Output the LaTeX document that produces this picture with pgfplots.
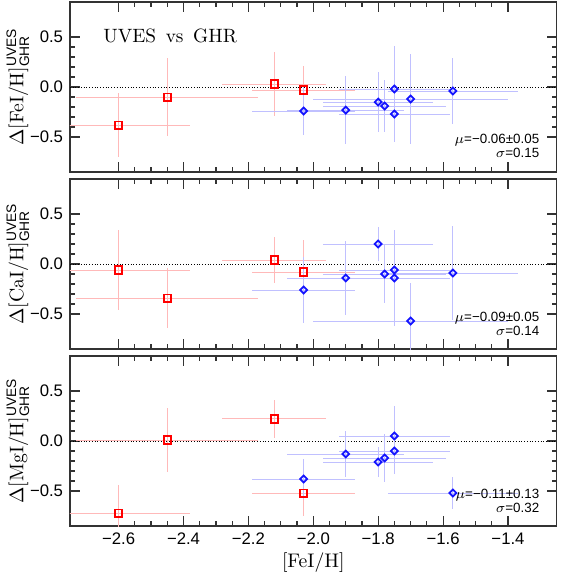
\documentclass[border=0pt]{standalone}
\usepackage{pgfplots}
\pgfplotsset{compat=1.18}
\usepgfplotslibrary{groupplots}
\usepackage{amsmath}
\usepackage{fontspec}
\newfontfamily\tickfont{Liberation Sans}
\definecolor{ebred}{RGB}{255,185,185}
\definecolor{ebblue}{RGB}{192,192,255}
\definecolor{mkblue}{RGB}{20,20,255}

\pgfplotsset{
  redpts/.style={only marks, mark=square, mark size=1.8pt, color=red,
    mark options={line width=1pt, solid},
    error bars/.cd, x dir=both, x explicit, y dir=both, y explicit,
    error mark=none, error bar style={color=ebred, line width=0.5pt}},
  bluepts/.style={only marks, mark=square, mark size=1.25pt, color=mkblue,
    mark options={line width=0.9pt, solid, rotate=45},
    error bars/.cd, x dir=both, x explicit, y dir=both, y explicit,
    error mark=none, error bar style={color=ebblue, line width=0.5pt}},
  zeroline/.style={black, line width=0.5pt, dash pattern=on 0.5pt off 0.9pt, forget plot},
}

\begin{document}
\begin{tikzpicture}
\begin{groupplot}[
  group style={group size=1 by 3, vertical sep=3.5pt, xticklabels at=edge bottom},
  scale only axis, width=247.5pt, height=86.5pt,
  xmin=-2.75, xmax=-1.25, ymin=-0.85, ymax=0.85,
  xtick={-2.6,-2.4,-2.2,-2.0,-1.8,-1.6,-1.4},
  xticklabels={−2.6,−2.4,−2.2,−2.0,−1.8,−1.6,−1.4},
  ytick={-0.5,0,0.5}, yticklabels={−0.5,0.0,0.5},
  minor x tick num=3, minor y tick num=4,
  major tick length=5pt, minor tick length=2.5pt,
  tick align=inside, tick pos=both,
  axis line style={line width=0.6pt, black!80},
  every tick/.style={line width=0.6pt, black!80},
  tick label style={font=\tickfont\fontsize{8.5}{10}\selectfont},
  label style={font=\fontsize{9.5}{11}\selectfont},
  every axis y label/.style={at={(axis description cs:-0.107,0.5)}, rotate=90, anchor=center},
  every axis x label/.style={at={(axis description cs:0.5,-0.215)}, anchor=center},
  clip=true,
]
\nextgroupplot[ylabel={$\Delta$[FeI/H]$^{\text{\tickfont UVES}}_{\text{\tickfont GHR}}$}]
\addplot[zeroline] coordinates {(-2.75,0) (-1.25,0)};
\addplot[redpts] table[x=x,y=y,x error=ex,y error=ey]{
x y ex ey
-2.60 -0.38 0.22 0.32
-2.45 -0.10 0.28 0.39
-2.12 0.03 0.16 0.32
-2.03 -0.03 0.16 0.24
};
\addplot[bluepts] table[x=x,y=y,x error=ex,y error=ey]{
x y ex ey
-2.03 -0.24 0.16 0.24
-1.90 -0.23 0.18 0.34
-1.80 -0.15 0.17 0.30
-1.78 -0.19 0.19 0.26
-1.75 -0.02 0.17 0.43
-1.75 -0.27 0.17 0.28
-1.70 -0.12 0.30 0.45
-1.57 -0.04 0.20 0.33
};
\node[anchor=west, inner sep=0pt, font=\fontsize{9.8}{12}\selectfont] at (rel axis cs:0.068,0.80) {UVES\, vs\, GHR};
\node[anchor=east, align=right, inner sep=0pt, font=\tickfont\fontsize{6.8}{7.2}\selectfont] at (rel axis cs:0.965,0.155) {$\mu$=−0.06±0.05\\$\sigma$=0.15};

\nextgroupplot[ylabel={$\Delta$[CaI/H]$^{\text{\tickfont UVES}}_{\text{\tickfont GHR}}$}]
\addplot[zeroline] coordinates {(-2.75,0) (-1.25,0)};
\addplot[redpts] table[x=x,y=y,x error=ex,y error=ey]{
x y ex ey
-2.60 -0.06 0.22 0.40
-2.45 -0.34 0.28 0.30
-2.12 0.04 0.16 0.23
-2.03 -0.08 0.16 0.32
};
\addplot[bluepts] table[x=x,y=y,x error=ex,y error=ey]{
x y ex ey
-2.03 -0.26 0.16 0.33
-1.90 -0.14 0.18 0.37
-1.80 0.20 0.17 0.17
-1.78 -0.10 0.19 0.29
-1.75 -0.06 0.17 0.30
-1.75 -0.14 0.17 0.48
-1.70 -0.57 0.30 0.38
-1.57 -0.09 0.20 0.47
};
\node[anchor=east, align=right, inner sep=0pt, font=\tickfont\fontsize{6.8}{7.2}\selectfont] at (rel axis cs:0.965,0.15) {$\mu$=−0.09±0.05\\$\sigma$=0.14};

\nextgroupplot[ylabel={$\Delta$[MgI/H]$^{\text{\tickfont UVES}}_{\text{\tickfont GHR}}$}, xlabel={[FeI/H]}]
\addplot[zeroline] coordinates {(-2.75,0) (-1.25,0)};
\addplot[redpts] table[x=x,y=y,x error=ex,y error=ey]{
x y ex ey
-2.60 -0.72 0.22 0.28
-2.45 0.01 0.28 0.32
-2.12 0.22 0.16 0.19
-2.03 -0.52 0.16 0.23
};
\addplot[bluepts] table[x=x,y=y,x error=ex,y error=ey]{
x y ex ey
-2.03 -0.38 0.16 0.20
-1.90 -0.13 0.18 0.23
-1.80 -0.21 0.17 0.15
-1.78 -0.17 0.19 0.24
-1.75 0.05 0.17 0.30
-1.75 -0.10 0.17 0.23
-1.57 -0.52 0.20 0.16
};
\node[anchor=east, align=right, inner sep=0pt, font=\tickfont\fontsize{6.8}{7.2}\selectfont] at (rel axis cs:0.965,0.15) {$\mu$=−0.11±0.13\\$\sigma$=0.32};
\end{groupplot}
\path (group c1r1.north east) ++(2.5pt,1pt) coordinate (bbNE);
\path (group c1r3.south west) ++(-33pt,-22pt) coordinate (bbSW);
\end{tikzpicture}
\end{document}
